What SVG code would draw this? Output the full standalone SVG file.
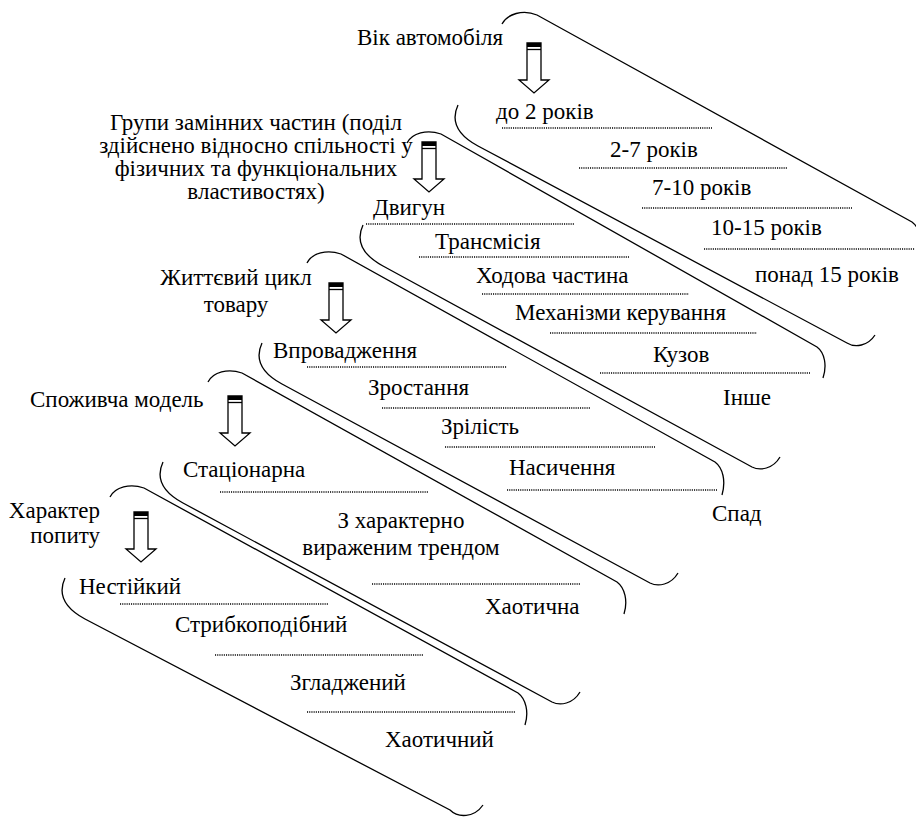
<svg xmlns="http://www.w3.org/2000/svg" width="916" height="822" viewBox="0 0 916 822">
<defs>
<g id="blockArrow">
<path d="M0,0 H14 V37 H22 L7,50 L-8,37 H0 Z" fill="#fff" stroke="#000" stroke-width="1.3"/>
<rect x="0" y="0" width="14" height="4" fill="#000"/>
<line x1="0" y1="6.5" x2="14" y2="6.5" stroke="#000" stroke-width="1.3"/>
</g>
</defs>
<rect width="916" height="822" fill="#fff"/>
<g id="age">
<g fill="none" stroke="#000" stroke-width="1.3">
<path d="M502,24 C507,14 523,9 537,15 L912,222 C920,228 922,240 918,252"/>
<path d="M458,105 C451,120 456,134 478,146 L847,343 C855,348 868,346 875,335"/>
</g>
<g fill="none" stroke="#000" stroke-width="1.6" stroke-dasharray="1.1 1.1">
<path d="M502,128 H712"/><path d="M579,168 H788"/><path d="M642,208 H852"/><path d="M704,249 H915"/>
</g>
<text x="357" y="45" style="font-family:'Times New Roman','Liberation Serif',serif;font-size:23px">Вік автомобіля</text>
<text x="496" y="119" style="font-family:'Times New Roman','Liberation Serif',serif;font-size:23px">до 2 років</text>
<text x="610" y="157" style="font-family:'Times New Roman','Liberation Serif',serif;font-size:23px">2-7 років</text>
<text x="652" y="195" style="font-family:'Times New Roman','Liberation Serif',serif;font-size:23px">7-10 років</text>
<text x="711" y="235" style="font-family:'Times New Roman','Liberation Serif',serif;font-size:23px">10-15 років</text>
<text x="755" y="282" style="font-family:'Times New Roman','Liberation Serif',serif;font-size:23px">понад 15 років</text>
</g>
<g id="parts">
<g fill="none" stroke="#000" stroke-width="1.3">
<path d="M407,143 C412,133 427,129 441,134 L817,347 C825,353 827,366 823,378"/>
<path d="M363,225 C356,240 361,254 383,266 L752,467 C760,471 773,469 780,457"/>
</g>
<g fill="none" stroke="#000" stroke-width="1.6" stroke-dasharray="1.1 1.1">
<path d="M366,224 H575"/><path d="M419,257 H629"/><path d="M482,294 H689"/><path d="M550,333 H757"/><path d="M600,373 H810"/>
</g>
<text x="256" y="130" text-anchor="middle" style="font-family:'Times New Roman','Liberation Serif',serif;font-size:23px">Групи замінних частин (поділ</text>
<text x="256" y="153" text-anchor="middle" style="font-family:'Times New Roman','Liberation Serif',serif;font-size:23px">здійснено відносно спільності у</text>
<text x="256" y="176" text-anchor="middle" style="font-family:'Times New Roman','Liberation Serif',serif;font-size:23px">фізичних та функціональних</text>
<text x="256" y="199" text-anchor="middle" style="font-family:'Times New Roman','Liberation Serif',serif;font-size:23px">властивостях)</text>
<text x="373" y="215" style="font-family:'Times New Roman','Liberation Serif',serif;font-size:23px">Двигун</text>
<text x="435" y="249" style="font-family:'Times New Roman','Liberation Serif',serif;font-size:23px">Трансмісія</text>
<text x="476" y="283" style="font-family:'Times New Roman','Liberation Serif',serif;font-size:23px">Ходова частина</text>
<text x="515" y="320" style="font-family:'Times New Roman','Liberation Serif',serif;font-size:23px">Механізми керування</text>
<text x="653" y="362" style="font-family:'Times New Roman','Liberation Serif',serif;font-size:23px">Кузов</text>
<text x="723" y="405" style="font-family:'Times New Roman','Liberation Serif',serif;font-size:23px">Інше</text>
</g>
<g id="lifecycle">
<g fill="none" stroke="#000" stroke-width="1.3">
<path d="M307,263 C312,253 327,249 341,254 L715,462 C723,468 726,481 722,495"/>
<path d="M262,343 C255,358 260,372 282,384 L650,583 C658,587 671,585 678,573"/>
</g>
<g fill="none" stroke="#000" stroke-width="1.6" stroke-dasharray="1.1 1.1">
<path d="M307,367 H507"/><path d="M382,408 H590"/><path d="M445,447 H655"/><path d="M507,490 H717"/>
</g>
<text x="236" y="285" text-anchor="middle" style="font-family:'Times New Roman','Liberation Serif',serif;font-size:23px">Життєвий цикл</text>
<text x="236" y="312" text-anchor="middle" style="font-family:'Times New Roman','Liberation Serif',serif;font-size:23px">товару</text>
<text x="273" y="358" style="font-family:'Times New Roman','Liberation Serif',serif;font-size:23px">Впровадження</text>
<text x="368" y="395" style="font-family:'Times New Roman','Liberation Serif',serif;font-size:23px">Зростання</text>
<text x="441" y="434" style="font-family:'Times New Roman','Liberation Serif',serif;font-size:23px">Зрілість</text>
<text x="509" y="475" style="font-family:'Times New Roman','Liberation Serif',serif;font-size:23px">Насичення</text>
<text x="712" y="521" style="font-family:'Times New Roman','Liberation Serif',serif;font-size:23px">Спад</text>
</g>
<g id="consumer">
<g fill="none" stroke="#000" stroke-width="1.3">
<path d="M208,382 C213,372 228,368 242,373 L617,582 C625,588 628,601 624,614"/>
<path d="M163,462 C156,477 161,491 183,503 L552,702 C560,706 573,704 580,692"/>
</g>
<g fill="none" stroke="#000" stroke-width="1.6" stroke-dasharray="1.1 1.1">
<path d="M220,492 H428"/><path d="M372,584 H580"/>
</g>
<text x="30" y="407" style="font-family:'Times New Roman','Liberation Serif',serif;font-size:23px">Споживча модель</text>
<text x="183" y="477" style="font-family:'Times New Roman','Liberation Serif',serif;font-size:23px">Стаціонарна</text>
<text x="401" y="528" text-anchor="middle" style="font-family:'Times New Roman','Liberation Serif',serif;font-size:23px">З характерно</text>
<text x="401" y="555" text-anchor="middle" style="font-family:'Times New Roman','Liberation Serif',serif;font-size:23px">вираженим трендом</text>
<text x="485" y="614" style="font-family:'Times New Roman','Liberation Serif',serif;font-size:23px">Хаотична</text>
</g>
<g id="demand">
<g fill="none" stroke="#000" stroke-width="1.3">
<path d="M110,497 C115,487 130,483 144,488 L518,693 C526,699 529,712 525,725"/>
<path d="M65,578 C58,593 63,607 85,619 L450,810 C458,818 474,818 483,805"/>
</g>
<g fill="none" stroke="#000" stroke-width="1.6" stroke-dasharray="1.1 1.1">
<path d="M120,604 H328"/><path d="M215,655 H423"/><path d="M307,712 H515"/>
</g>
<text x="100" y="518" text-anchor="end" style="font-family:'Times New Roman','Liberation Serif',serif;font-size:23px">Характер</text>
<text x="100" y="543" text-anchor="end" style="font-family:'Times New Roman','Liberation Serif',serif;font-size:23px">попиту</text>
<text x="79" y="594" style="font-family:'Times New Roman','Liberation Serif',serif;font-size:23px">Нестійкий</text>
<text x="175" y="632" style="font-family:'Times New Roman','Liberation Serif',serif;font-size:23px">Стрибкоподібний</text>
<text x="290" y="690" style="font-family:'Times New Roman','Liberation Serif',serif;font-size:23px">Згладжений</text>
<text x="385" y="747" style="font-family:'Times New Roman','Liberation Serif',serif;font-size:23px">Хаотичний</text>
</g>
<g id="connectors">
<use href="#blockArrow" x="527" y="43"/>
<use href="#blockArrow" x="422" y="142"/>
<use href="#blockArrow" x="329" y="283"/>
<use href="#blockArrow" x="228" y="396"/>
<use href="#blockArrow" x="134" y="512"/>
</g>
</svg>
